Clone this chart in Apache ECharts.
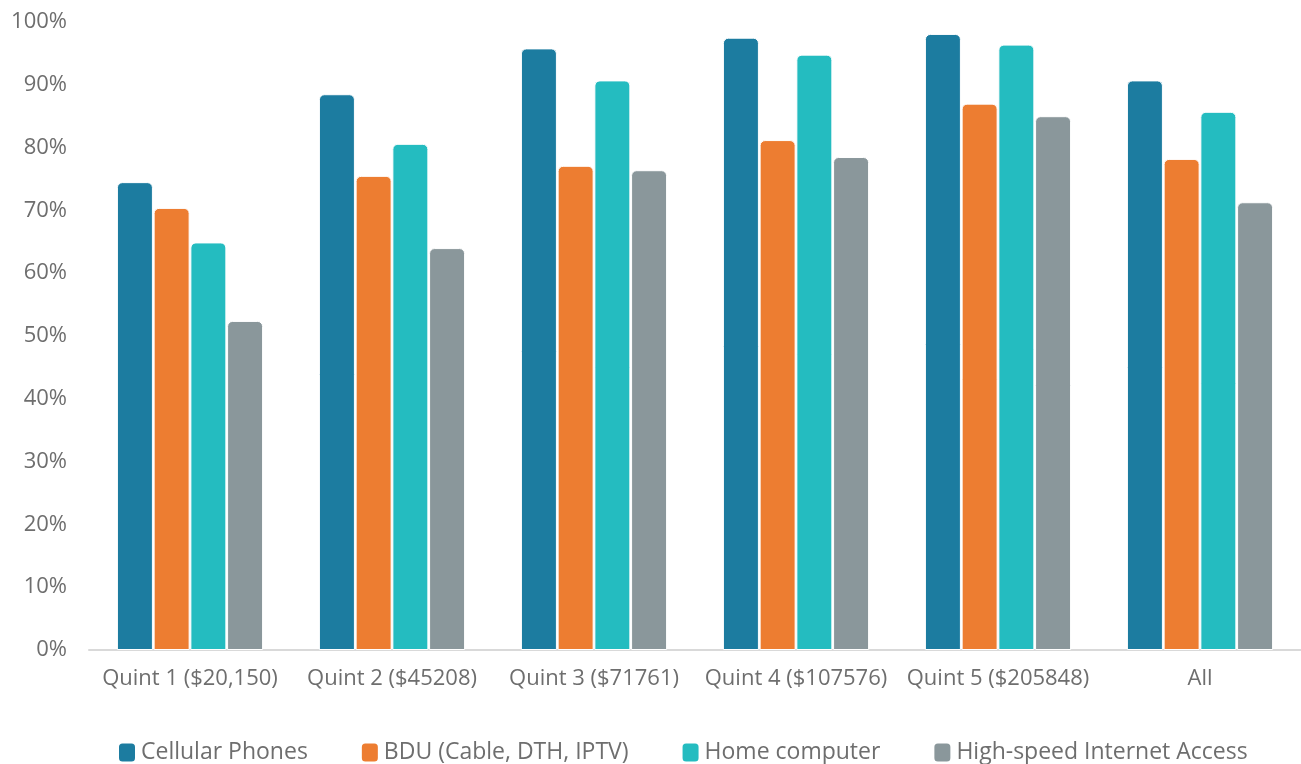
<!DOCTYPE html>
<html>
<head>
<meta charset="utf-8">
<script src="https://cdn.jsdelivr.net/npm/echarts@6/dist/echarts.min.js"></script>
<style>html,body{margin:0;padding:0;background:#fff}#c{width:1301px;height:764px}</style>
</head>
<body>
<div id="c"></div>
<script>
const categories = ['Quint 1 ($20,150)', 'Quint 2 ($45208)', 'Quint 3 ($71761)', 'Quint 4 ($107576)', 'Quint 5 ($205848)', 'All'];
const seriesNames = ['Cellular Phones', 'BDU (Cable, DTH, IPTV)', 'Home computer', 'High-speed Internet Access'];
const cellular = [74.5, 88.5, 95.8, 97.5, 98.1, 90.7];
const bdu = [70.4, 75.5, 77.1, 81.2, 87.0, 78.2];
const homeComputer = [64.9, 80.6, 90.7, 94.8, 96.4, 85.7];
const highSpeed = [52.4, 64.0, 76.4, 78.5, 85.0, 71.3];
const yTicks = [0, 10, 20, 30, 40, 50, 60, 70, 80, 90, 100];

const colors = ['#1c7ca0', '#ed7d31', '#24bcc0', '#8a979b'];
const FONT = '"Open Sans", sans-serif';
const TXT = '#6e6e6e';
const dataSets = [cellular, bdu, homeComputer, highSpeed];

const chart = echarts.init(document.getElementById('c'));
chart.setOption({
  animation: false,
  color: colors,
  textStyle: { fontFamily: FONT },
  grid: { left: 89, top: 22, width: 1217, bottom: 114, containLabel: false },
  legend: {
    top: 736,
    left: 112,
    itemWidth: 18,
    itemHeight: 20,
    itemGap: 52,
    icon: 'roundRect',
    textStyle: { fontFamily: FONT, fontSize: 23, color: TXT },
    data: seriesNames
  },
  xAxis: {
    type: 'category',
    data: categories,
    axisLine: { lineStyle: { color: '#d9d9d9', width: 2 } },
    axisTick: { show: false },
    axisLabel: { fontFamily: FONT, fontSize: 22, color: TXT, margin: 18, interval: 0 }
  },
  yAxis: {
    type: 'value',
    min: yTicks[0], max: yTicks[yTicks.length - 1], interval: 10,
    splitLine: { show: false },
    axisLine: { show: false },
    axisTick: { show: false },
    axisLabel: { fontFamily: FONT, fontSize: 22, color: TXT, margin: 22, formatter: v => v + '%' }
  },
  series: dataSets.map((d, i) => ({
    name: seriesNames[i],
    type: 'bar',
    data: d,
    barWidth: 36,
    barGap: '2%',
    itemStyle: { color: colors[i], borderRadius: [5, 5, 0, 0], borderColor: '#fff', borderWidth: 1 }
  }))
});
</script>
</body>
</html>
